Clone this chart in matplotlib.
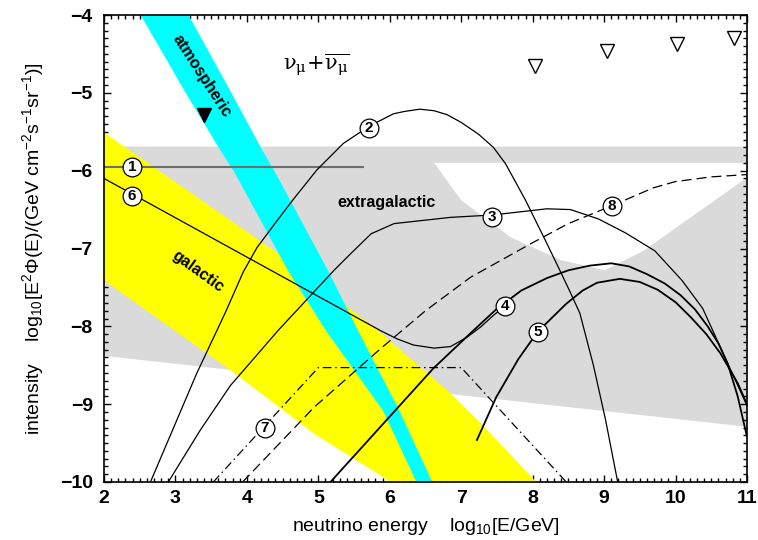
import matplotlib
matplotlib.use("Agg")
import matplotlib.pyplot as plt
from matplotlib.ticker import MultipleLocator, FuncFormatter

plt.rcParams["font.family"] = ["Liberation Sans", "DejaVu Sans"]
plt.rcParams["mathtext.fontset"] = "custom"
plt.rcParams["mathtext.rm"] = "Liberation Sans"
plt.rcParams["mathtext.it"] = "Liberation Sans:italic"
plt.rcParams["mathtext.bf"] = "Liberation Sans:bold"

# ---- shaded regions -------------------------------------------------------
# grey band of extragalactic predictions (outer outline) and the white notch
grey_x = [2.0, 11.0, 11.0, 2.0]
grey_y = [-5.69, -5.69, -9.29, -8.38]
notch_x = [6.62, 11.0, 11.0, 10.18, 9.55, 9.01, 8.40, 7.70, 7.00]
notch_y = [-5.90, -5.90, -6.09, -6.62, -7.03, -7.28, -7.15, -6.86, -6.38]

# galactic band (yellow)
gal_up_x = [2.0, 4.43, 5.83, 6.85, 7.27, 8.05]
gal_up_y = [-5.51, -7.06, -8.05, -8.86, -9.24, -10.0]
gal_lo_x = [2.0, 3.78, 4.94, 5.88, 6.0]
gal_lo_y = [-7.41, -8.57, -9.38, -9.92, -10.0]

# atmospheric band (cyan), edges given as energy vs intensity
atm_y = [-4.0, -5.0, -5.70, -6.0, -7.28, -8.05, -9.08, -10.0]
atm_left = [2.51, 3.14, 3.60, 3.81, 4.57, 5.10, 5.90, 6.37]
atm_right = [3.18, 3.78, 4.19, 4.38, 5.13, 5.55, 6.13, 6.59]

# ---- model curves ---------------------------------------------------------
c1_x = [2.0, 5.62]
c1_y = [-5.95, -5.95]

c2_x = [2.65, 3.30, 3.70, 3.95, 4.14, 4.40, 4.64, 4.98, 5.35, 5.71, 6.05, 6.20,
        6.42, 6.62, 6.80, 7.00, 7.24, 7.45, 7.62, 7.90, 8.18, 8.38, 8.52, 8.66,
        8.85, 9.02, 9.19]
c2_y = [-10.0, -8.60, -7.82, -7.30, -6.99, -6.67, -6.38, -5.99, -5.65, -5.43,
        -5.27, -5.24, -5.21, -5.23, -5.28, -5.38, -5.53, -5.70, -5.91, -6.38,
        -6.90, -7.28, -7.55, -7.83, -8.50, -9.20, -10.0]

c3_x = [2.90, 3.35, 3.77, 4.44, 5.22, 5.46, 5.74, 6.06, 6.85, 7.43, 8.20, 8.53,
        8.92, 9.30, 9.71, 10.09, 10.38, 11.0]
c3_y = [-10.0, -9.33, -8.76, -8.05, -7.28, -7.06, -6.81, -6.68, -6.60, -6.57,
        -6.49, -6.50, -6.62, -6.80, -7.03, -7.41, -7.77, -9.02]

c4_x = [5.17, 6.61, 7.14, 7.48, 7.84, 8.20, 8.50, 8.80, 9.10, 9.35, 9.60, 9.85,
        10.07, 10.27, 10.45, 10.60, 10.73, 10.87, 11.0]
c4_y = [-10.0, -8.54, -8.08, -7.79, -7.54, -7.38, -7.28, -7.22, -7.19, -7.23,
        -7.33, -7.45, -7.60, -7.78, -8.00, -8.22, -8.48, -8.90, -9.42]

c5_x = [7.22, 7.49, 7.80, 8.07, 8.47, 8.70, 8.90, 9.22, 9.50, 9.75, 10.00, 10.21,
        10.43, 10.63, 10.87, 11.0]
c5_y = [-9.46, -8.91, -8.42, -8.07, -7.71, -7.54, -7.44, -7.39, -7.43, -7.53,
        -7.69, -7.88, -8.10, -8.35, -8.73, -9.00]

c6_x = [2.0, 5.88, 6.10, 6.33, 6.62, 6.85, 7.08, 7.27, 7.45, 7.61]
c6_y = [-6.10, -8.06, -8.16, -8.24, -8.28, -8.26, -8.14, -8.01, -7.86, -7.74]

c7_x = [3.53, 5.0, 7.0, 8.47]
c7_y = [-10.0, -8.53, -8.53, -10.0]

c8_x = [3.94, 4.94, 5.88, 6.50, 7.13, 7.97, 8.50, 9.11, 9.69, 10.0, 10.5, 11.0]
c8_y = [-10.0, -9.04, -8.28, -7.80, -7.37, -6.94, -6.68, -6.45, -6.22, -6.14,
        -6.08, -6.05]

# numbered markers on the curves
tag_names = ["1", "2", "3", "4", "5", "6", "7", "8"]
tag_x = [2.39, 5.71, 7.43, 7.61, 8.07, 2.39, 4.25, 9.11]
tag_y = [-5.95, -5.45, -6.59, -7.74, -8.07, -6.33, -9.31, -6.45]

# experimental upper limits
lim_x = [8.03, 9.04, 10.02, 10.82]
lim_y = [-4.65, -4.46, -4.37, -4.30]
lim_filled_x = [3.40]
lim_filled_y = [-5.29]

GREY = "#dadada"

fig = plt.figure(figsize=(7.58, 5.40), dpi=100)
ax = fig.add_axes([104 / 758, 1 - 482 / 540, (747 - 104) / 758, (482 - 15) / 540])
ax.set_xlim(2, 11)
ax.set_ylim(-10, -4)

ax.fill(grey_x, grey_y, color=GREY, lw=0, zorder=1)
ax.fill(notch_x, notch_y, color="white", lw=0, zorder=1.1)
ax.fill(gal_up_x + gal_lo_x[::-1], gal_up_y + gal_lo_y[::-1],
        color="#ffff00", lw=0, zorder=2)
ax.fill_betweenx(atm_y, atm_left, atm_right, color="#00ffff", lw=0, zorder=3)

lw = 0.9
ax.plot(c1_x, c1_y, color="#6e6e6e", lw=1.5, zorder=5)
ax.plot(c2_x, c2_y, color="black", lw=lw, zorder=5)
ax.plot(c3_x, c3_y, color="black", lw=lw, zorder=5)
ax.plot(c4_x, c4_y, color="black", lw=1.3, zorder=5)
ax.plot(c5_x, c5_y, color="black", lw=1.3, zorder=5)
ax.plot(c6_x, c6_y, color="black", lw=lw, zorder=5)
ax.plot(c7_x, c7_y, color="black", lw=lw, zorder=5,
        dashes=[7, 3, 1.2, 3])
ax.plot(c8_x, c8_y, color="black", lw=lw, zorder=5, dashes=[8, 4])

for name, x, y in zip(tag_names, tag_x, tag_y):
    ax.plot(x, y, "o", ms=13.5, mfc="white", mec="black", mew=0.9, zorder=8)
    ax.text(x, y, name, ha="center", va="center", fontsize=11,
            fontweight="bold", zorder=9)

ax.plot(lim_x, lim_y, "v", ms=10, mfc="white", mec="black", mew=1.0,
        ls="none", zorder=6)
ax.plot(lim_filled_x, lim_filled_y, "v", ms=10.5, color="black",
        ls="none", zorder=6)

ax.text(3.37, -4.78, "atmospheric", rotation=-57, ha="center", va="center",
        fontsize=11.5, fontweight="bold", zorder=7, rotation_mode="anchor")
ax.text(3.32, -7.29, "galactic", rotation=-36, ha="center", va="center",
        fontsize=11.5, fontweight="bold", zorder=7, rotation_mode="anchor")
ax.text(5.96, -6.41, "extragalactic", ha="center", va="center",
        fontsize=11.5, fontweight="bold", zorder=7)
ax.text(4.97, -4.63,
        r"$\mathrm{\nu}_\mathrm{\mu}\!+\!\overline{\mathrm{\nu}_\mathrm{\mu}}$",
        ha="center", va="center", fontsize=15, math_fontfamily="dejavuserif",
        zorder=7)

ax.xaxis.set_major_locator(MultipleLocator(1))
ax.xaxis.set_minor_locator(MultipleLocator(0.1))
ax.yaxis.set_major_locator(MultipleLocator(1))
ax.yaxis.set_minor_locator(MultipleLocator(0.1))
ax.yaxis.set_major_formatter(FuncFormatter(lambda v, p: f"{v:.0f}".replace("-", "\u2212")))
ax.xaxis.set_major_formatter(FuncFormatter(lambda v, p: f"{v:.0f}"))
ax.tick_params(which="both", direction="in", top=True, right=True, width=1.0)
ax.tick_params(which="major", length=5)
ax.tick_params(which="minor", length=2.8)
ax.tick_params(axis="x", which="major", pad=6)
ax.tick_params(axis="y", which="major", pad=8)
for lab in ax.get_xticklabels() + ax.get_yticklabels():
    lab.set_fontsize(14)
    lab.set_fontweight("bold")
for s in ax.spines.values():
    s.set_linewidth(1.2)
    s.set_zorder(10)

ax.set_xlabel(r"neutrino energy    log$_{10}$[E/GeV]", fontsize=14, labelpad=6)
ax.set_ylabel(r"intensity    log$_{10}$[E$^2\Phi$(E)/(GeV cm$^{-2}$s$^{-1}$sr$^{-1}$)]",
              fontsize=14, labelpad=10)

fig.savefig("out.png", dpi=100)
